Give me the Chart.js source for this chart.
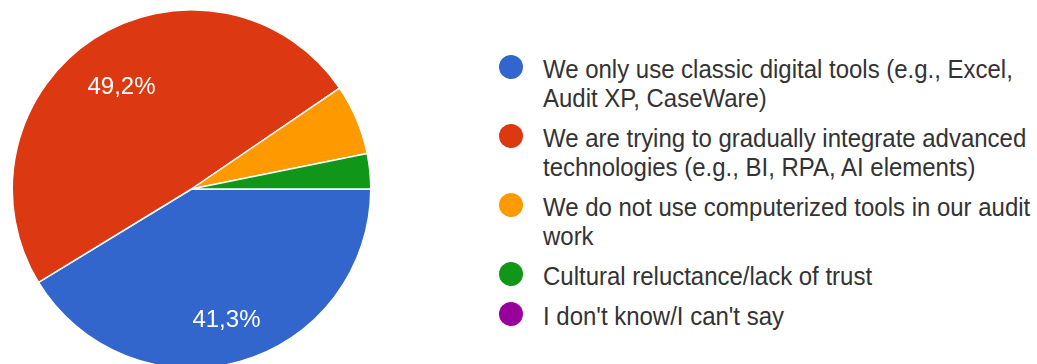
<!DOCTYPE html>
<html>
<head>
<meta charset="utf-8">
<script src="https://cdn.jsdelivr.net/npm/chart.js@4.4.1/dist/chart.umd.min.js"></script>
<style>
  html, body { margin: 0; padding: 0; background: #fff; overflow: hidden; }
  body { width: 1037px; height: 364px; position: relative; font-family: "Liberation Sans", Arial, sans-serif; }
  #pieBox { position: absolute; left: 0; top: 9px; width: 383px; height: 360px; }
  #legend { position: absolute; left: 499px; top: 55px; color: #333; }
  .item { position: relative; margin-bottom: 11px; }
  .dot { position: absolute; left: 0; top: 0; width: 24px; height: 24px; border-radius: 50%; }
  .txt { margin-left: 44px; width: 540px; font-size: 25.5px; line-height: 29px; transform: scaleX(0.94); transform-origin: left top; }
</style>
</head>
<body>
<div id="pieBox"><canvas id="pie"></canvas></div>
<div id="legend"></div>
<script>
const categorias = [
  'We only use classic digital tools (e.g., Excel, Audit XP, CaseWare)',
  'We are trying to gradually integrate advanced technologies (e.g., BI, RPA, AI elements)',
  'We do not use computerized tools in our audit work',
  'Cultural reluctance/lack of trust',
  "I don't know/I can't say"
];
const respuestas = [26, 31, 4, 2, 0];
const colores = ['#3366cc', '#dc3912', '#ff9900', '#109618', '#990099'];

// porcentajes en blanco dentro de las porciones grandes
const etiquetas = {
  id: 'etiquetas',
  afterDatasetsDraw(chart) {
    const ctx = chart.ctx;
    const total = respuestas.reduce((a, b) => a + b, 0);
    const meta = chart.getDatasetMeta(0);
    ctx.save();
    ctx.fillStyle = '#fff';
    ctx.font = '24px "Liberation Sans", Arial, sans-serif';
    ctx.textAlign = 'center';
    ctx.textBaseline = 'middle';
    meta.data.forEach((arc, i) => {
      const pct = respuestas[i] / total * 100;
      if (pct < 10) return;
      const mid = (arc.startAngle + arc.endAngle) / 2;
      const r = arc.outerRadius * 0.72;
      const x = arc.x + Math.cos(mid) * r;
      const y = arc.y + Math.sin(mid) * r + 7;
      ctx.fillText(pct.toFixed(1).replace('.', ',') + '%', x, y);
    });
    ctx.restore();
  }
};

const ctx = document.getElementById('pie').getContext('2d');
const grafico = new Chart(ctx, {
  type: 'pie',
  data: {
    labels: categorias,
    datasets: [{
      data: respuestas,
      backgroundColor: colores,
      borderColor: '#fff',
      borderWidth: 1.5
    }]
  },
  options: {
    responsive: true,
    maintainAspectRatio: false,
    animation: false,
    rotation: 90,
    layout: { padding: 0 },
    plugins: {
      legend: { display: false },
      tooltip: { enabled: false }
    }
  },
  plugins: [etiquetas]
});

// leyenda a la derecha
const leyenda = document.getElementById('legend');
categorias.forEach((c, i) => {
  const item = document.createElement('div');
  item.className = 'item';
  const dot = document.createElement('div');
  dot.className = 'dot';
  dot.style.background = colores[i];
  const txt = document.createElement('div');
  txt.className = 'txt';
  txt.textContent = c;
  item.appendChild(dot);
  item.appendChild(txt);
  leyenda.appendChild(item);
});
</script>
</body>
</html>
